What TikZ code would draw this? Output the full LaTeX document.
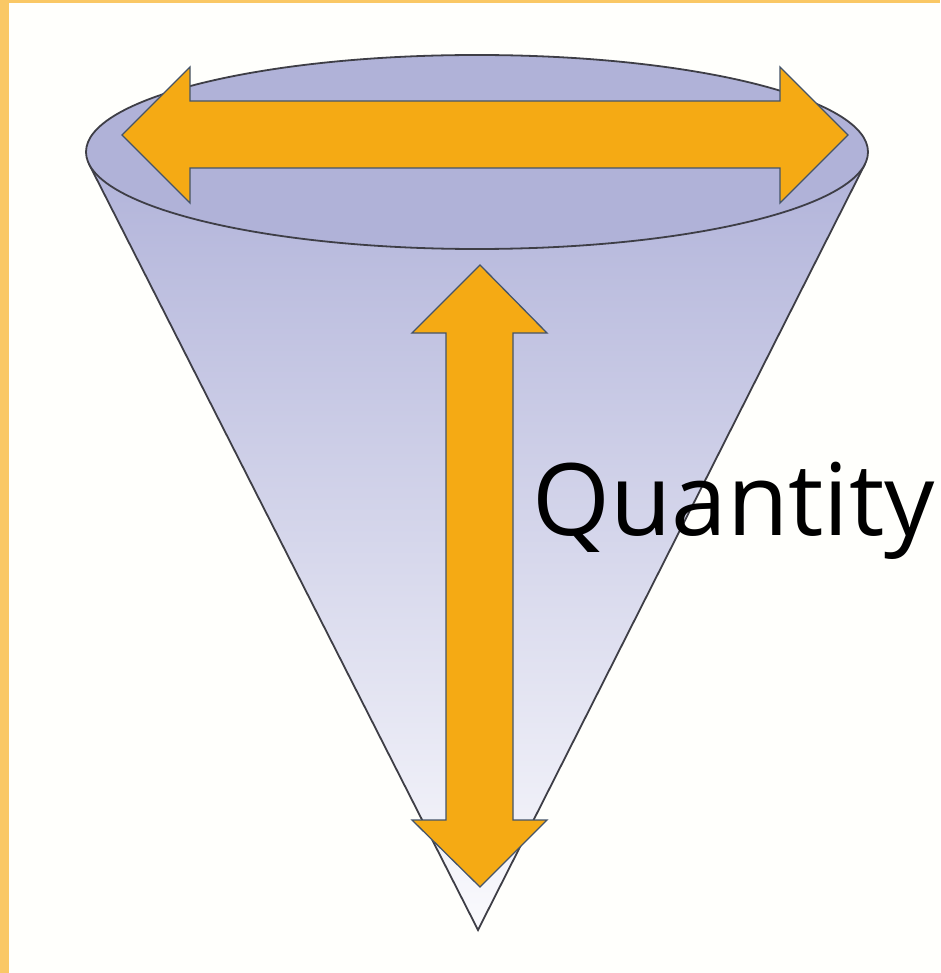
\documentclass[tikz,border=0pt]{standalone}
\usepackage{fontspec}
\setmainfont{Open Sans}
\usepackage{xcolor}
\usepackage{tikz}
\usetikzlibrary{calc}
\definecolor{Frame}{HTML}{FAC865}
\definecolor{Paper}{HTML}{FFFFFC}
\definecolor{ConeTop}{HTML}{B2B4DA}
\definecolor{ConeBot}{HTML}{FAFAFD}
\definecolor{Rim}{HTML}{B0B2D8}
\definecolor{Edge}{HTML}{3E3E46}
\definecolor{Amber}{HTML}{F5AA14}
\definecolor{Slate}{HTML}{44546A}

\begin{document}
\begin{tikzpicture}[
      x=1pt, y=-1pt,
      bigarrow/.style={
        fill=Amber, draw=Slate, line width=1.3pt, line join=miter
      },
      coneedge/.style={draw=Edge, line width=1.8pt},
      label/.style={
        font=\fontsize{100}{102}\selectfont, text=black,
        inner sep=0pt, anchor=base west
      }
    ]
      % page and frame
      \fill[Paper] (0,0) rectangle (940,973);
      \fill[Frame] (0,0) rectangle (9,973);
      \fill[Frame] (0,0) rectangle (940,3);
      \useasboundingbox (0,0) rectangle (940,973);

      % cone
      \coordinate (apex) at (478,930);
      \coordinate (rimL) at (89,164);
      \coordinate (rimR) at (865,164);
      \coordinate (rimC) at (477,152);
      \shade[top color=ConeTop, bottom color=ConeBot] (rimL) -- (apex) -- (rimR) -- cycle;
      \draw[coneedge] (rimL) -- (apex) -- (rimR);
      \draw[coneedge, fill=Rim] (rimC) ellipse [x radius=391, y radius=97];

      % width arrow
      \draw[bigarrow] (122,135) -- (190,67) -- (190,101) -- (780,101) -- (780,67)
        -- (848,135) -- (780,203) -- (780,168) -- (190,168) -- (190,203) -- cycle;
      % depth arrow
      \draw[bigarrow] (480,265) -- (547,333) -- (513,333) -- (513,820) -- (547,820)
        -- (480,887) -- (412,820) -- (446,820) -- (446,333) -- (412,333) -- cycle;

      \node[label] (qty) at (532,535) {Quantity};
    \end{tikzpicture}
\end{document}
